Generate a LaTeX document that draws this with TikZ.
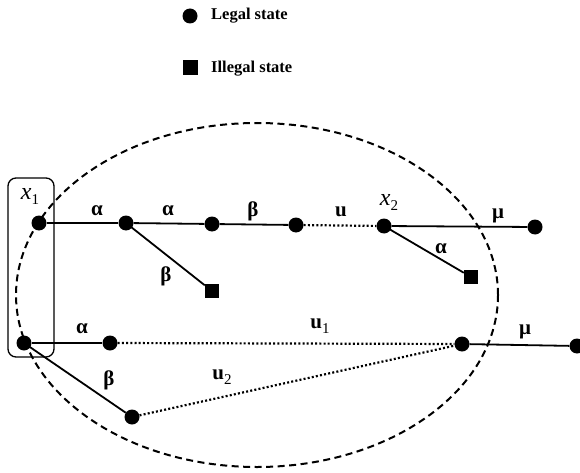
\documentclass[tikz,border=0pt]{standalone}
\usepackage{fontspec}
\setmainfont{Liberation Serif}
\usetikzlibrary{shapes.geometric}
\begin{document}
\begin{tikzpicture}[x=1pt,y=-1pt,
  legal/.style={circle,fill=black,inner sep=0pt,minimum size=15pt},
  illegal/.style={rectangle,fill=black,inner sep=0pt,minimum size=14pt},
  edge/.style={line width=1.8pt},
  dotline/.style={line width=2.2pt,dash pattern=on 2pt off 2.2pt},
  region/.style={line width=2pt,dash pattern=on 7pt off 4.5pt},
  lbl/.style={inner sep=0pt,font=\fontsize{21}{21}\selectfont\bfseries},
  legtext/.style={anchor=west,inner sep=0pt,font=\fontsize{16.5}{16.5}\selectfont\bfseries}]
\useasboundingbox (0,0) rectangle (580,473);

% legend
\node[legal] (legA) at (190,16) {};
\node[legtext] (legAt) at (211,16) {Legal state};
\node[illegal,minimum size=15pt] (legB) at (190,68) {};
\node[legtext] (legBt) at (211,69) {Illegal state};

% region of interest
\draw[region] (257,295) ellipse [x radius=241, y radius=172];

% initial state group
\draw[line width=1.3pt,rounded corners=8pt] (8,178) rectangle (54,357);

% states
\node[legal] (a1) at (39,223) {};
\node[legal] (a2) at (126,223) {};
\node[legal] (a3) at (212,224) {};
\node[legal] (a4) at (296,225) {};
\node[legal] (a5) at (384,226) {};
\node[legal] (a6) at (535,227) {};
\node[illegal] (s1) at (212,291) {};
\node[illegal] (s2) at (471,277) {};
\node[legal] (b1) at (24,343) {};
\node[legal] (b2) at (110,343) {};
\node[legal] (b3) at (462,344) {};
\node[legal] (b4) at (577,346) {};
\node[legal] (c1) at (132,417) {};

% transitions
\draw[edge] (a1) -- (a2);
\draw[edge] (a2) -- (a3);
\draw[edge] (a3) -- (a4);
\draw[dotline] (a4) -- (a5);
\draw[edge] (a5) -- (a6);
\draw[edge] (a2.center) -- (s1);
\draw[edge] (a5.center) -- (s2);
\draw[edge] (b1) -- (b2);
\draw[dotline] (b2) -- (b3);
\draw[edge] (b1.center) -- (c1);
\draw[dotline] (c1) -- (b3);
\draw[edge] (b3) -- (b4);

% labels
\node[lbl,font=\fontsize{24}{24}\selectfont] (x1) at (30,196) {\itshape x\raisebox{-5pt}{\upshape\fontsize{15}{15}\selectfont 1}};
\node[lbl,font=\fontsize{24}{24}\selectfont] (x2) at (389,202) {\itshape x\raisebox{-5pt}{\upshape\fontsize{15}{15}\selectfont 2}};
\node[lbl] (l1) at (97,211) {α};
\node[lbl] (l2) at (168,211) {α};
\node[lbl] (l3) at (253,211) {β};
\node[lbl] (l4) at (341,212) {u};
\node[lbl] (l5) at (498,216) {μ};
\node[lbl] (l6) at (441,249) {α};
\node[lbl] (l7) at (166,276) {β};
\node[lbl] (l8) at (82,329) {α};
\node[lbl] (l9) at (320,326) {u\raisebox{-5pt}{\mdseries\fontsize{15}{15}\selectfont 1}};
\node[lbl] (l10) at (525,332) {μ};
\node[lbl] (l11) at (109,380) {β};
\node[lbl] (l12) at (222,377) {u\raisebox{-5pt}{\mdseries\fontsize{15}{15}\selectfont 2}};
\end{tikzpicture}
\end{document}
